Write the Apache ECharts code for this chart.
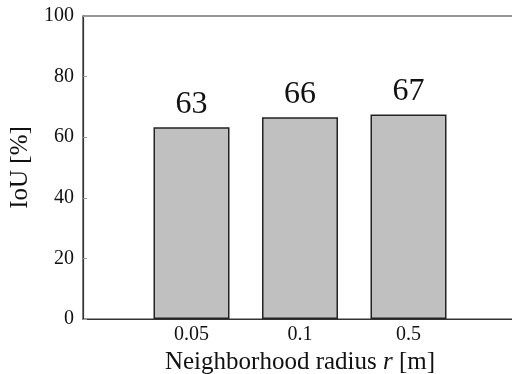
<!DOCTYPE html>
<html>
<head>
<meta charset="utf-8">
<script src="https://cdn.jsdelivr.net/npm/echarts@6/dist/echarts.min.js"></script>
<style>html,body{margin:0;padding:0;background:#fff}#c{width:512px;height:374px}</style>
</head>
<body>
<div id="c"></div>
<script>
var categories = ['0.05', '0.1', '0.5'];
var values = [63.3, 66.6, 67.5];
var valueLabels = ['63', '66', '67'];
var yTicks = [0, 20, 40, 60, 80, 100];

var FONT = '"Liberation Serif", "Times New Roman", serif';
var xData = [''].concat(categories).concat(['']);
var sData = [null].concat(values).concat([null]);
var lData = [''].concat(valueLabels).concat(['']);

var chart = echarts.init(document.getElementById('c'));
chart.setOption({
  animation: false,
  backgroundColor: '#fff',
  grid: { left: 83, top: 16, width: 434, height: 303, show: true, borderColor: '#333', borderWidth: 1.2, backgroundColor: 'transparent', containLabel: false, outerBoundsMode: 'none' },
  xAxis: {
    type: 'category',
    data: xData,
    boundaryGap: false,
    axisLine: { lineStyle: { color: '#333', width: 1.2 } },
    axisTick: { show: false },
    axisLabel: { interval: 0, color: '#111', fontFamily: FONT, fontSize: 20, margin: 6 },
    name: 'Neighborhood radius {i|r} [m]',
    nameLocation: 'middle',
    nameGap: 29,
    nameTextStyle: { color: '#111', fontFamily: FONT, fontSize: 25,
      rich: { i: { fontStyle: 'italic', fontFamily: FONT, fontSize: 25, color: '#111' } } },
    splitLine: { show: false }
  },
  yAxis: {
    type: 'value',
    min: yTicks[0], max: yTicks[yTicks.length - 1], interval: yTicks[1] - yTicks[0],
    axisLine: { show: true, lineStyle: { color: '#333', width: 1.2 } },
    axisTick: { show: true, inside: true, length: 4, lineStyle: { color: '#999' } },
    axisLabel: { color: '#111', fontFamily: FONT, fontSize: 20, margin: 9 },
    splitLine: { show: false },
    name: 'IoU [%]',
    nameLocation: 'middle',
    nameGap: 46,
    nameTextStyle: { color: '#111', fontFamily: FONT, fontSize: 25 }
  },
  series: [{
    type: 'bar',
    data: sData,
    barWidth: 76,
    itemStyle: { color: '#c0c0c0', borderColor: '#222', borderWidth: 1.5 },
    label: {
      show: true, position: 'top', distance: 7,
      fontFamily: FONT, fontSize: 32, color: '#111',
      formatter: function (p) { return lData[p.dataIndex]; }
    }
  }]
});
</script>
</body>
</html>
